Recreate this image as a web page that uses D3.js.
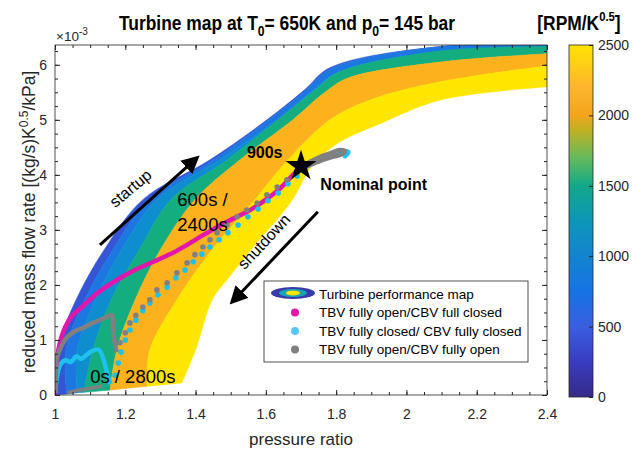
<!DOCTYPE html>
<html>
<head>
<meta charset="utf-8">
<script src="https://cdn.jsdelivr.net/npm/d3@7"></script>
<style>
  body { margin: 0; background: #fff; }
  svg { font-family: "Liberation Sans", Arial, sans-serif; }
</style>
</head>
<body>
<div id="chart"></div>
<script>
// speed band boundaries of the map, [pressure ratio, reduced mass flow x1e-3], upper-left to lower-right
var edge0 = [[1.0,0],[1.006,0.82],[1.06,1.73],[1.14,2.64],[1.25,3.55],[1.44,4.27],[1.603,5.0],[1.711,5.55],[1.783,5.95],[2.096,6.33],[2.4,6.36]];
var edge1 = [[1.034,0.02],[1.031,0.82],[1.085,1.73],[1.165,2.64],[1.268,3.55],[1.45,4.27],[1.606,4.99],[1.713,5.53],[1.785,5.93],[2.096,6.33],[2.4,6.36]];
var edge2 = [[1.063,0.04],[1.063,0.82],[1.115,1.73],[1.19,2.64],[1.29,3.55],[1.468,4.27],[1.632,5.0],[1.737,5.55],[1.805,5.87],[2.096,6.25],[2.4,6.33]];
var edge3 = [[1.083,0.05],[1.108,0.82],[1.16,1.73],[1.24,2.64],[1.33,3.55],[1.49,4.27],[1.635,5.0],[1.74,5.54],[1.807,5.86],[2.096,6.25],[2.4,6.33]];
var edge4 = [[1.157,0.09],[1.176,0.82],[1.228,1.73],[1.30,2.64],[1.398,3.55],[1.526,4.27],[1.677,5.0],[1.768,5.5],[1.834,5.76],[2.096,6.05],[2.4,6.2]];
var edge5 = [[1.262,0.16],[1.27,0.82],[1.347,1.73],[1.447,2.64],[1.569,3.55],[1.663,4.27],[1.783,5.0],[1.896,5.36],[2.096,5.69],[2.4,5.98]];
var edge6 = [[1.361,0.22],[1.40,0.82],[1.447,1.73],[1.489,2.09],[1.569,2.73],[1.669,3.49],[1.734,4.18],[1.811,4.6],[1.925,4.93],[2.096,5.36],[2.4,5.6]];
var bandColors = ["#3456d6", "#1c78e0", "#0e8ecf", "#13ad80", "#fbb21c", "#ffe600"];

// TBV fully open / CBV full closed
var magenta = [[1.0,0.02],[1.003,0.5],[1.012,0.9],[1.03,1.25],[1.05,1.45],[1.08,1.62],[1.12,1.85],[1.176,2.09],[1.23,2.28],[1.29,2.45],[1.34,2.6],[1.384,2.76],[1.42,2.9],[1.461,3.05],[1.518,3.24],[1.555,3.36],[1.6,3.55],[1.64,3.75],[1.677,4.0],[1.70,4.15],[1.74,4.25],[1.783,4.33]];
// TBV fully closed / CBV fully closed
var cyanLine = [[1.0,0],[1.005,0.3],[1.015,0.55],[1.03,0.63],[1.045,0.6],[1.06,0.7],[1.075,0.66],[1.09,0.73],[1.105,0.8],[1.125,0.82],[1.14,0.6],[1.15,0.35],[1.158,0.2]];
var cyanDots = [[1.171,0.36],[1.18,0.58],[1.188,0.78],[1.2,1.0],[1.213,1.18],[1.23,1.36],[1.25,1.53],[1.27,1.67],[1.293,1.82],[1.319,1.96],[1.344,2.13],[1.37,2.27],[1.393,2.42],[1.418,2.56],[1.441,2.69],[1.467,2.82],[1.492,2.95],[1.521,3.09],[1.549,3.24],[1.578,3.38],[1.606,3.53],[1.635,3.67],[1.663,3.84],[1.689,3.98]];
var cyanLoop = [[1.70,4.08],[1.73,4.2],[1.76,4.3],[1.79,4.38],[1.815,4.43],[1.835,4.41],[1.825,4.34]];
// TBV fully open / CBV fully open
var grayLine = [[1.0,0.04],[1.006,0.69],[1.02,0.91],[1.034,1.05],[1.063,1.18],[1.08,1.22],[1.108,1.31],[1.128,1.36],[1.148,1.42],[1.162,1.45],[1.165,1.18],[1.171,0.91],[1.176,0.78]];
var grayDots = [[1.185,0.95],[1.2,1.13],[1.213,1.31],[1.23,1.45],[1.25,1.6],[1.27,1.73],[1.29,1.91],[1.319,2.04],[1.347,2.22],[1.376,2.4],[1.398,2.55],[1.421,2.69],[1.441,2.82],[1.461,2.95],[1.489,3.09],[1.518,3.24],[1.546,3.36],[1.575,3.49],[1.603,3.64],[1.632,3.78],[1.66,3.91],[1.689,4.04]];
var grayLoop = [[1.70,4.14],[1.73,4.25],[1.76,4.34],[1.79,4.41],[1.81,4.45],[1.825,4.43],[1.815,4.37],[1.79,4.33],[1.76,4.27],[1.73,4.19],[1.70,4.12]];
var grayEnd = [[1.04,0.05],[1.06,0.08],[1.08,0.1],[1.1,0.12],[1.13,0.16]];

var nominal = [1.70, 4.16];
var startupArrow = [[1.128,2.73],[1.404,4.31]];
var shutdownArrow = [[1.748,3.33],[1.504,1.69]];

var xTicks = [1, 1.2, 1.4, 1.6, 1.8, 2, 2.2, 2.4];
var yTicks = [0, 1, 2, 3, 4, 5, 6];
var cbTicks = [0, 500, 1000, 1500, 2000, 2500];
var cbStops = [[0,"#352a87"],[250,"#3a3cc0"],[500,"#3a5ee0"],[750,"#1673e4"],[1000,"#1384cf"],[1250,"#0d96b8"],[1500,"#12a88a"],[1700,"#66ba5c"],[1900,"#c3b022"],[2000,"#f2a51c"],[2200,"#fdb52e"],[2500,"#ffe300"]];

var W = 632, H = 449;
var svg = d3.select("#chart").append("svg").attr("width", W).attr("height", H);

var x = d3.scaleLinear().domain([1, 2.4]).range([55, 547]);
var y = d3.scaleLinear().domain([0, 6.36]).range([395, 45]);

var defs = svg.append("defs");
defs.append("clipPath").attr("id", "plot").append("rect")
  .attr("x", 55).attr("y", 45).attr("width", 492).attr("height", 350);

var g = svg.append("g").attr("clip-path", "url(#plot)");

var edges = [edge0, edge1, edge2, edge3, edge4, edge5, edge6];
var lineC = d3.line().x(function(d) { return x(d[0]); }).y(function(d) { return y(d[1]); }).curve(d3.curveCatmullRom);

for (var i = 0; i < 6; i++) {
  var a = lineC(edges[i]);
  var b = lineC(edges[i + 1].slice().reverse());
  g.append("path")
    .attr("d", a + "L" + b.slice(1) + "Z")
    .attr("fill", bandColors[i])
    .attr("stroke", bandColors[i])
    .attr("stroke-width", 0.6);
}

// trajectories
g.append("path").attr("d", lineC(grayEnd)).attr("fill", "none").attr("stroke", "#808080").attr("stroke-width", 3.5).attr("stroke-linecap", "round");
g.append("path").attr("d", lineC(cyanLine)).attr("fill", "none").attr("stroke", "#1ec0ec").attr("stroke-width", 4.5).attr("stroke-linejoin", "round");
g.append("path").attr("d", lineC(magenta)).attr("fill", "none").attr("stroke", "#e316ac").attr("stroke-width", 4.5).attr("stroke-linecap", "round");
g.append("path").attr("d", lineC(grayLine)).attr("fill", "none").attr("stroke", "#808080").attr("stroke-width", 4.5).attr("stroke-linejoin", "round");
g.append("path").attr("d", lineC(cyanLoop)).attr("fill", "none").attr("stroke", "#1ec0ec").attr("stroke-width", 4.5).attr("stroke-linecap", "round");
g.append("path").attr("d", lineC(grayLoop)).attr("fill", "none").attr("stroke", "#808080").attr("stroke-width", 4.5).attr("stroke-linecap", "round");

g.selectAll("circle.cy").data(cyanDots).enter().append("circle")
  .attr("cx", function(d) { return x(d[0]); }).attr("cy", function(d) { return y(d[1]); })
  .attr("r", 2.8).attr("fill", "#1ec0ec");
g.selectAll("circle.gr").data(grayDots).enter().append("circle")
  .attr("cx", function(d) { return x(d[0]); }).attr("cy", function(d) { return y(d[1]); })
  .attr("r", 2.8).attr("fill", "#808080");

// axes
var axisColor = "#262626";
function styleAxis(sel) {
  sel.select(".domain").remove();
  sel.selectAll("line").attr("stroke", axisColor);
  sel.selectAll("text").attr("fill", axisColor).attr("font-size", "14px");
}
var xMinor = d3.range(1, 2.401, 0.05);
var yMinor = d3.range(0, 6.36, 0.25);

svg.append("g").attr("transform", "translate(0,395)")
  .call(d3.axisBottom(x).tickValues(xMinor).tickSize(-3).tickFormat("")).call(styleAxis);
svg.append("g").attr("transform", "translate(0,45)")
  .call(d3.axisTop(x).tickValues(xMinor).tickSize(-3).tickFormat("")).call(styleAxis);
svg.append("g").attr("transform", "translate(0,395)")
  .call(d3.axisBottom(x).tickValues(xTicks).tickSize(-5).tickPadding(14).tickFormat(d3.format("~g"))).call(styleAxis);
svg.append("g").attr("transform", "translate(0,45)")
  .call(d3.axisTop(x).tickValues(xTicks).tickSize(-5).tickFormat("")).call(styleAxis);

svg.append("g").attr("transform", "translate(55,0)")
  .call(d3.axisLeft(y).tickValues(yMinor).tickSize(-3).tickFormat("")).call(styleAxis);
svg.append("g").attr("transform", "translate(547,0)")
  .call(d3.axisRight(y).tickValues(yMinor).tickSize(-3).tickFormat("")).call(styleAxis);
svg.append("g").attr("transform", "translate(55,0)")
  .call(d3.axisLeft(y).tickValues(yTicks).tickSize(-5).tickPadding(8).tickFormat(d3.format("d"))).call(styleAxis);
svg.append("g").attr("transform", "translate(547,0)")
  .call(d3.axisRight(y).tickValues(yTicks).tickSize(-5).tickFormat("")).call(styleAxis);

svg.append("rect").attr("x", 55).attr("y", 45).attr("width", 492).attr("height", 350)
  .attr("fill", "none").attr("stroke", axisColor).attr("stroke-width", 0.8);

// exponent
var ex = svg.append("text").attr("x", 56).attr("y", 41).attr("font-size", "13.5px").attr("fill", axisColor);
ex.append("tspan").text("\u00d710");
ex.append("tspan").attr("dy", -6).attr("font-size", "10px").text("-3");

// axis labels
svg.append("text").attr("x", 301).attr("y", 445).attr("text-anchor", "middle")
  .attr("font-size", "17px").attr("fill", axisColor).text("pressure ratio");
var yl = svg.append("text").attr("transform", "translate(35,222) rotate(-90)").attr("text-anchor", "middle")
  .attr("font-size", "17.5px").attr("fill", axisColor);
yl.append("tspan").text("reduced mass flow rate [(kg/s)K");
yl.append("tspan").attr("dy", -7).attr("font-size", "12px").text("0.5");
yl.append("tspan").attr("dy", 7).text("/kPa]");

// title
var tt = svg.append("text").attr("transform", "translate(287,30) scale(0.87,1)").attr("text-anchor", "middle")
  .attr("font-size", "20px").attr("font-weight", "bold").attr("fill", "#000");
tt.append("tspan").text("Turbine map at T");
tt.append("tspan").attr("dy", 6).attr("font-size", "14px").text("0");
tt.append("tspan").attr("dy", -6).text("= 650K and p");
tt.append("tspan").attr("dy", 6).attr("font-size", "14px").text("0");
tt.append("tspan").attr("dy", -6).text("= 145 bar");

// colorbar
var cb = d3.scaleLinear().domain([0, 2500]).range([397, 45]);
var grad = defs.append("linearGradient").attr("id", "cbg")
  .attr("x1", 0).attr("y1", 1).attr("x2", 0).attr("y2", 0);
grad.selectAll("stop").data(cbStops).enter().append("stop")
  .attr("offset", function(d) { return d[0] / 2500; })
  .attr("stop-color", function(d) { return d[1]; });
svg.append("rect").attr("x", 569).attr("y", 45).attr("width", 24).attr("height", 352)
  .attr("fill", "url(#cbg)").attr("stroke", axisColor).attr("stroke-width", 0.8);
svg.append("g").attr("transform", "translate(593,0)")
  .call(d3.axisRight(cb).tickValues(cbTicks).tickSize(-4).tickPadding(5).tickFormat(d3.format("d"))).call(styleAxis);

var ct = svg.append("text").attr("transform", "translate(579,30) scale(0.87,1)").attr("text-anchor", "middle")
  .attr("font-size", "20px").attr("font-weight", "bold").attr("fill", "#000");
ct.append("tspan").text("[RPM/K");
ct.append("tspan").attr("dy", -9).attr("font-size", "13px").text("0.5");
ct.append("tspan").attr("dy", 9).text("]");

// arrows
defs.append("marker").attr("id", "ah").attr("viewBox", "0 0 10 10").attr("refX", 8).attr("refY", 5)
  .attr("markerWidth", 6).attr("markerHeight", 6).attr("orient", "auto").attr("markerUnits", "strokeWidth")
  .append("path").attr("d", "M0,0L10,5L0,10Z").attr("fill", "#000");
[startupArrow, shutdownArrow].forEach(function(a) {
  svg.append("line")
    .attr("x1", x(a[0][0])).attr("y1", y(a[0][1]))
    .attr("x2", x(a[1][0])).attr("y2", y(a[1][1]))
    .attr("stroke", "#000").attr("stroke-width", 3).attr("marker-end", "url(#ah)");
});

// star
svg.append("path").attr("d", d3.symbol().type(d3.symbolStar).size(300)())
  .attr("transform", "translate(" + x(nominal[0]) + "," + y(nominal[1]) + ")").attr("fill", "#000");

// annotations
function label(txt, px, py, size, weight, rot) {
  var t = svg.append("text").attr("font-size", size).attr("font-weight", weight || "normal").attr("fill", "#000");
  if (rot) {
    t.attr("text-anchor", "middle").attr("transform", "translate(" + x(px) + "," + y(py) + ") rotate(" + rot + ")");
  } else {
    t.attr("x", x(px)).attr("y", y(py));
  }
  t.text(txt);
}
label("startup", 1.225, 3.68, "16px", "normal", -40);
label("shutdown", 1.606, 2.72, "16px", "normal", -47);
label("600s /", 1.348, 3.44, "18.5px");
label("2400s", 1.348, 2.98, "18.5px");
label("900s", 1.546, 4.31, "16px", "bold");
label("Nominal point", 1.755, 3.73, "16px", "bold");
label("0s / 2800s", 1.1, 0.22, "18.5px");

// legend
var lg = svg.append("g");
lg.append("rect").attr("x", 264).attr("y", 281).attr("width", 264).attr("height", 81)
  .attr("fill", "#fff").attr("stroke", axisColor).attr("stroke-width", 0.8);
lg.append("ellipse").attr("cx", 293).attr("cy", 293).attr("rx", 22).attr("ry", 6).attr("fill", "#3a3aaa");
lg.append("ellipse").attr("cx", 293).attr("cy", 293).attr("rx", 14).attr("ry", 4).attr("fill", "#1aa3b5");
lg.append("ellipse").attr("cx", 293).attr("cy", 293).attr("rx", 7).attr("ry", 2.4).attr("fill", "#ffe600");
var legItems = [["Turbine performance map", null], ["TBV fully open/CBV full closed", "#e316ac"], ["TBV fully closed/ CBV fully closed", "#55c8f5"], ["TBV fully open/CBV fully open", "#808080"]];
legItems.forEach(function(d, i) {
  var cy = 294 + i * 18.5;
  if (d[1]) lg.append("circle").attr("cx", 295).attr("cy", cy).attr("r", 4).attr("fill", d[1]);
  lg.append("text").attr("x", 319).attr("y", cy + 4.5).attr("font-size", "13.5px").attr("fill", "#000").text(d[0]);
});
</script>
</body>
</html>
